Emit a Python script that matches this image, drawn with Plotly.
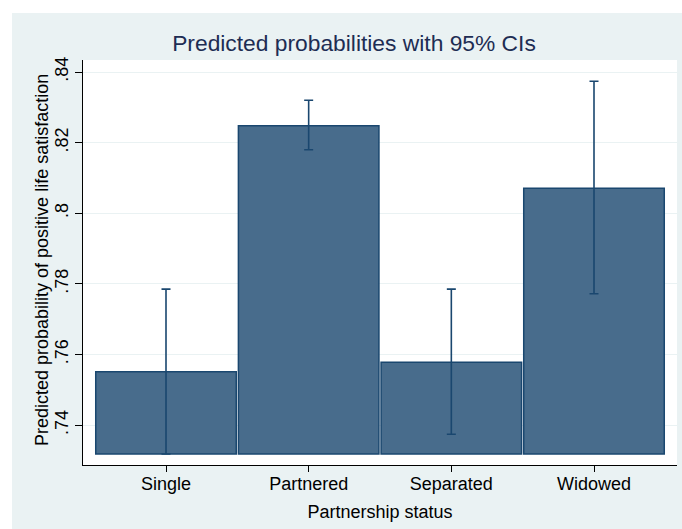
import plotly.graph_objects as go

# Predicted probabilities of positive life satisfaction by partnership status
categories = ["Single", "Partnered", "Separated", "Widowed"]
predicted = [0.7551, 0.8248, 0.7578, 0.8071]
ci_lower = [0.7318, 0.8180, 0.7374, 0.7772]
ci_upper = [0.7785, 0.8320, 0.7785, 0.8374]

y_ticks = [0.74, 0.76, 0.78, 0.80, 0.82, 0.84]
y_tick_labels = [".74", ".76", ".78", ".8", ".82", ".84"]

# bars start at the lowest confidence bound
base = min(ci_lower)

NAVY = "#1A476F"
BAR_FILL = "rgb(72,108,140)"
BG = "#EAF2F3"
FONT = "Liberation Sans, Arial, sans-serif"

W, H = 682, 529
L, R, T, B = 83, 677, 60, 465  # plot-area edges in pixels


def px_x(p):
    return (p - L) / (R - L)


def px_y(p):
    return (B - p) / (B - T)


fig = go.Figure()
fig.add_trace(go.Bar(
    x=categories,
    y=[v - base for v in predicted],
    base=base,
    width=0.985,
    marker=dict(color=BAR_FILL, line=dict(color=NAVY, width=1.5)),
    error_y=dict(
        type="data",
        symmetric=False,
        array=[u - v for u, v in zip(ci_upper, predicted)],
        arrayminus=[v - lo for v, lo in zip(predicted, ci_lower)],
        color=NAVY,
        thickness=1.6,
        width=4.5,
    ),
    hoverinfo="skip",
))

# white border strips around the tinted graph region
shapes = [
    dict(type="rect", xref="paper", yref="paper", layer="below",
         x0=px_x(0), x1=px_x(12), y0=px_y(W), y1=px_y(0),
         fillcolor="white", line=dict(width=0)),
    dict(type="rect", xref="paper", yref="paper", layer="below",
         x0=px_x(0), x1=px_x(W), y0=px_y(13), y1=px_y(0),
         fillcolor="white", line=dict(width=0)),
]

# y-axis title placed as a rotated annotation
annotations = [
    dict(text="Predicted probability of positive life satisfaction",
         xref="paper", yref="paper", x=px_x(42), y=px_y(260),
         xanchor="center", yanchor="middle", textangle=-90,
         showarrow=False, font=dict(family=FONT, size=18, color="black")),
]

fig.update_layout(
    width=W, height=H,
    margin=dict(l=L, r=W - R, t=T, b=H - B, pad=0),
    paper_bgcolor=BG,
    plot_bgcolor="white",
    showlegend=False,
    shapes=shapes,
    annotations=annotations,
    font=dict(family=FONT, size=18, color="black"),
    title=dict(
        text="Predicted probabilities with 95% CIs",
        font=dict(family=FONT, size=22.8, color="#1E2D53"),
        x=354 / W, xref="container", xanchor="center",
        y=1 - 43 / H, yref="container", yanchor="middle",
    ),
    xaxis=dict(
        type="category",
        range=[-0.5818, 3.5818],
        showline=True, linecolor="black", linewidth=1,
        ticks="outside", ticklen=6, tickcolor="black",
        showgrid=False, zeroline=False,
        tickfont=dict(size=18),
        ticklabelstandoff=-4,
        title=dict(text="Partnership status", font=dict(size=18), standoff=12),
    ),
    yaxis=dict(
        range=[0.7287, 0.8434],
        tickvals=y_ticks, ticktext=y_tick_labels,
        tickangle=-90,
        showline=True, linecolor="black", linewidth=1,
        ticks="outside", ticklen=7, tickcolor="black",
        showgrid=True, gridcolor=BG, gridwidth=1,
        zeroline=False,
        tickfont=dict(size=18),
    ),
)

fig.write_html("out.html")
